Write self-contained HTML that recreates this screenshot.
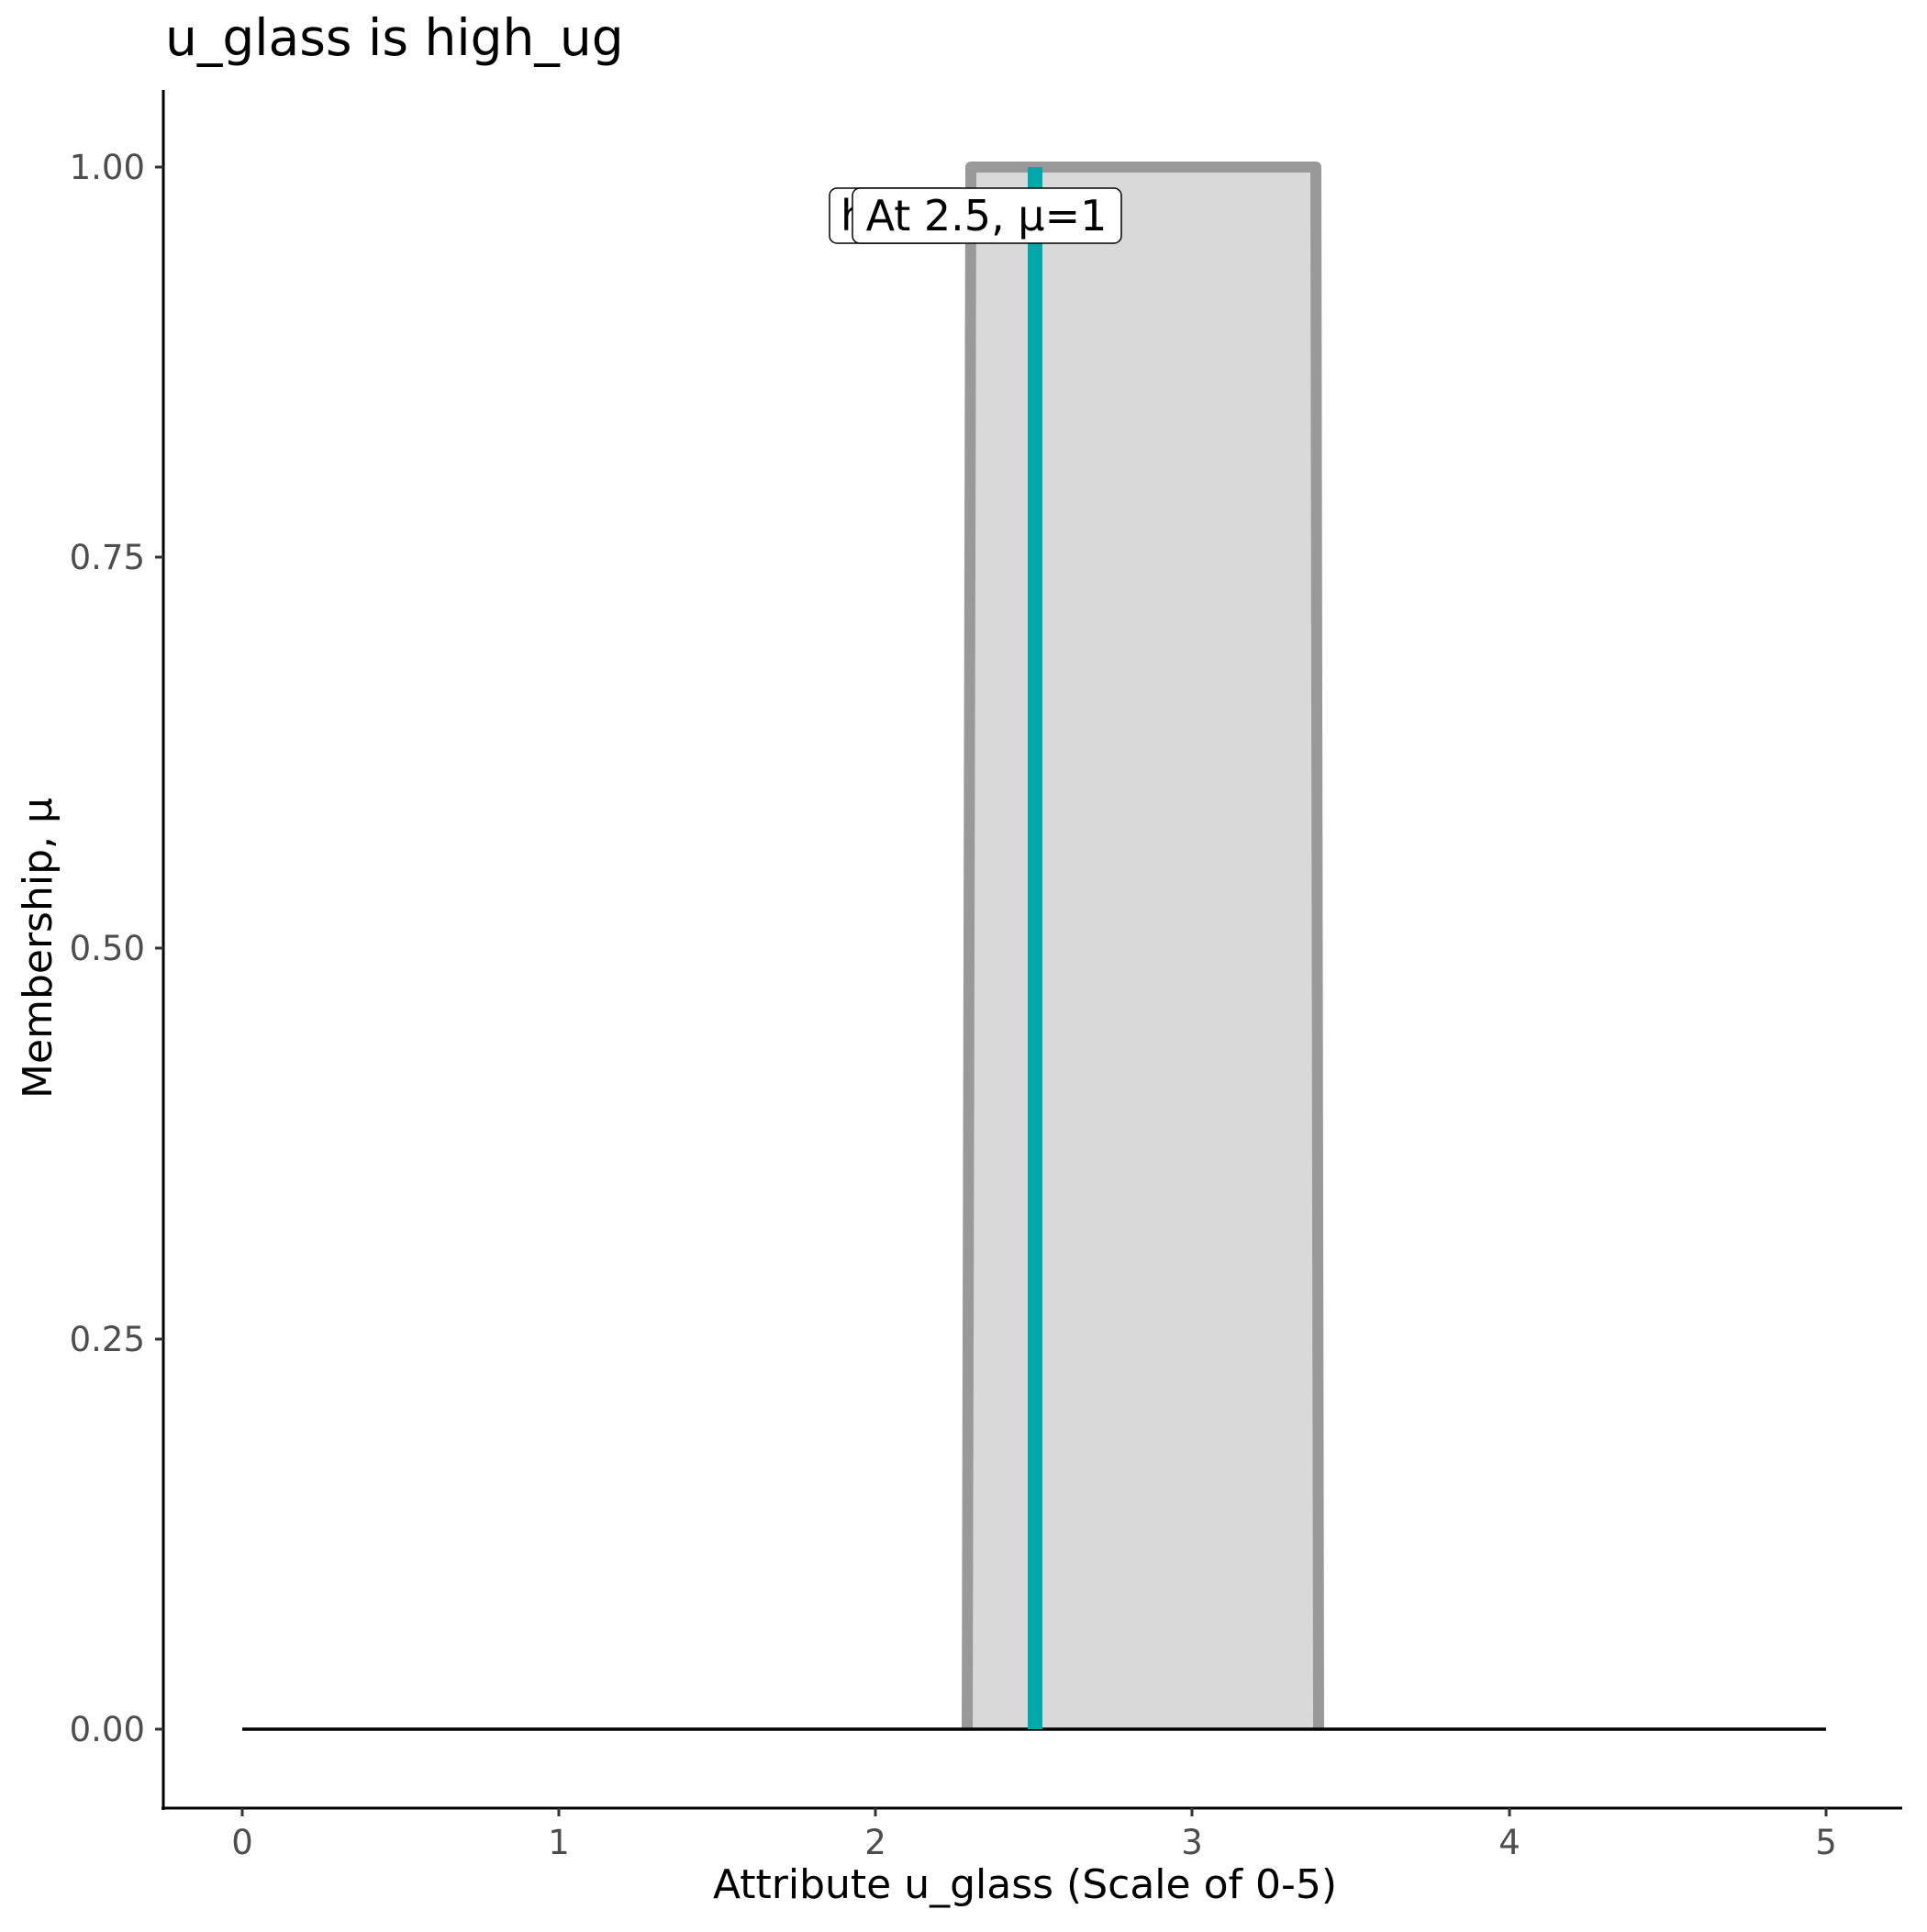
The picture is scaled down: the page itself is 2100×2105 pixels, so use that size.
<!DOCTYPE html>
<html><head><style>body{margin:0;background:#fff}</style></head><body>
<svg width="2100" height="2100" xmlns="http://www.w3.org/2000/svg" font-family="DejaVu Sans, Liberation Sans, sans-serif">
<rect width="2100" height="2100" fill="#fff"/>
<text x="180" y="60" font-size="55" fill="#000">u_glass is high_ug</text>
<polygon points="1054,1884 1058,182 1434,182 1437,1884" fill="#d9d9d9"/>
<polyline points="1054,1884 1058,182 1434,182 1437,1884" fill="none" stroke="#999" stroke-width="12" stroke-linejoin="round"/>
<line x1="264" y1="1884" x2="1990" y2="1884" stroke="#000" stroke-width="3.5"/>
<line x1="1128" y1="182" x2="1128" y2="1884" stroke="#00aaaa" stroke-width="16"/>
<rect x="904" y="205" width="150" height="60" rx="8" fill="#fff" stroke="#000" stroke-width="1.5"/>
<text x="916" y="251" font-size="46">h</text>
<rect x="929" y="205" width="293" height="60" rx="8" fill="#fff" stroke="#000" stroke-width="1.5"/>
<text x="1075" y="251" font-size="46" text-anchor="middle">At 2.5, μ=1</text>
<line x1="178" y1="98" x2="178" y2="1972" stroke="#000" stroke-width="3"/>
<line x1="176" y1="1970" x2="2073" y2="1970" stroke="#000" stroke-width="3"/>
<g stroke="#333" stroke-width="3">
<line x1="169" y1="182" x2="178" y2="182"/><line x1="169" y1="607" x2="178" y2="607"/><line x1="169" y1="1033" x2="178" y2="1033"/><line x1="169" y1="1459" x2="178" y2="1459"/><line x1="169" y1="1884" x2="178" y2="1884"/>
<line x1="264" y1="1970" x2="264" y2="1979"/><line x1="609" y1="1970" x2="609" y2="1979"/><line x1="954" y1="1970" x2="954" y2="1979"/><line x1="1299" y1="1970" x2="1299" y2="1979"/><line x1="1645" y1="1970" x2="1645" y2="1979"/><line x1="1990" y1="1970" x2="1990" y2="1979"/>
</g>
<g font-size="37" fill="#4d4d4d" text-anchor="end">
<text x="158" y="195">1.00</text><text x="158" y="620">0.75</text><text x="158" y="1046">0.50</text><text x="158" y="1472">0.25</text><text x="158" y="1897">0.00</text>
</g>
<g font-size="37" fill="#4d4d4d" text-anchor="middle">
<text x="264" y="2020">0</text><text x="609" y="2020">1</text><text x="954" y="2020">2</text><text x="1299" y="2020">3</text><text x="1645" y="2020">4</text><text x="1990" y="2020">5</text>
</g>
<text x="1117" y="2068" font-size="44" text-anchor="middle">Attribute u_glass (Scale of 0-5)</text>
<text transform="translate(56,1033) rotate(-90)" font-size="44" text-anchor="middle">Membership, μ</text>
</svg>
</body></html>
